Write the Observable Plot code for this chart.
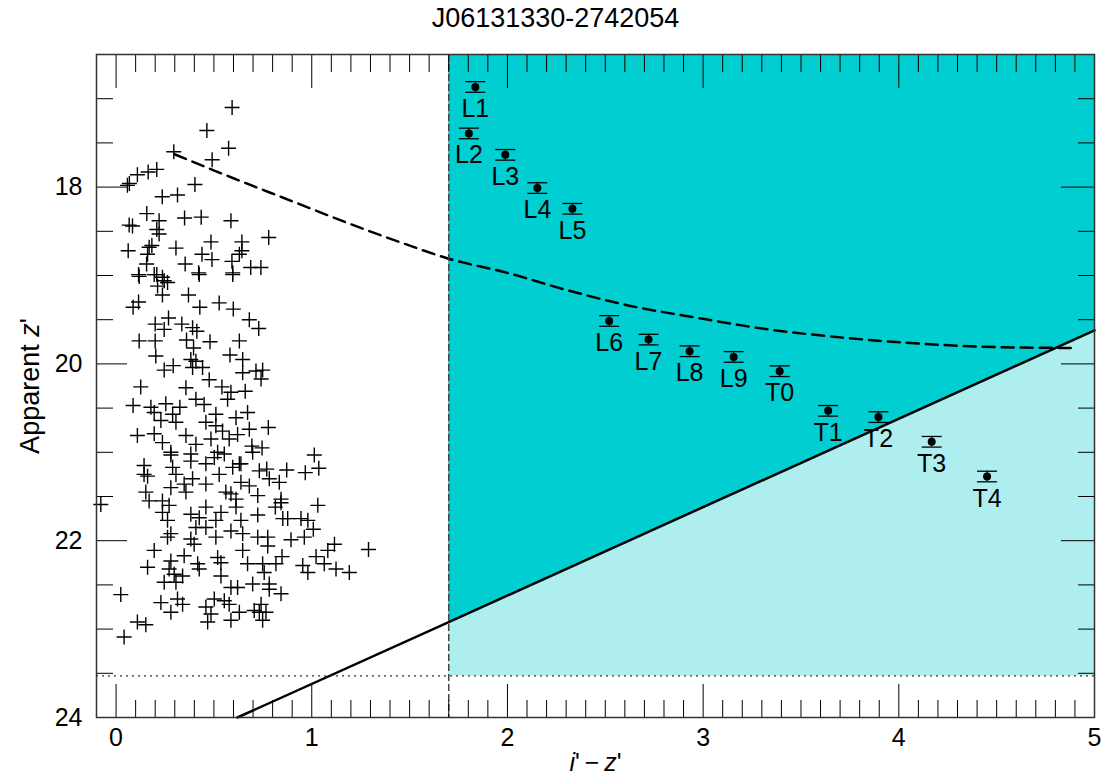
<!DOCTYPE html>
<html><head><meta charset="utf-8">
<script src="https://cdn.jsdelivr.net/npm/d3@7"></script>
<script src="https://cdn.jsdelivr.net/npm/@observablehq/plot@0.6"></script>
<style>body{margin:0;background:#fff;}</style>
</head><body><div id="chart"></div>
<script>
const chartTitle = "J06131330-2742054";
const xLabel = "i'−z'";
const yLabel = "Apparent z'";

// Spectral-type template sequence (labelled points)
const spType = ["L1","L2","L3","L4","L5","L6","L7","L8","L9","T0","T1","T2","T3","T4"];
const spColor = [1.836,1.803,1.989,2.153,2.332,2.520,2.721,2.931,3.156,3.391,3.639,3.896,4.168,4.451];
const spMag = [16.867,17.393,17.635,18.011,18.245,19.514,19.725,19.857,19.921,20.083,20.531,20.602,20.881,21.274];
const spErr = [0.06,0.06,0.06,0.06,0.06,0.06,0.06,0.06,0.06,0.06,0.06,0.06,0.06,0.06];

// Field sources (crosses)
const crossX = [
0.593,0.464,0.575,0.295,0.491,0.208,0.164,0.109,0.058,0.068,0.403,0.314,0.236,0.157,0.435,0.350,0.587,0.220,0.067,0.084,
0.208,0.220,0.485,0.643,0.062,0.169,0.183,0.306,0.161,0.439,0.490,0.156,0.353,0.592,0.630,0.422,0.596,0.115,0.208,0.237,
0.780,0.688,0.740,0.643,
0.118,0.195,0.246,0.212,0.263,0.425,0.596,0.237,0.370,0.115,0.087,0.428,0.527,0.599,0.268,0.200,0.246,0.336,0.391,0.413,
0.118,0.200,0.360,0.480,0.630,0.396,0.203,0.382,0.408,0.582,0.647,0.292,0.246,0.391,0.442,0.647,0.476,0.126,0.357,0.541,
0.587,0.570,0.408,0.254,0.087,0.178,0.195,0.326,0.450,0.510,0.289,0.306,0.229,0.613,0.459,0.510,0.544,0.109,0.195,0.357,
0.237,0.408,0.485,0.578,0.280,0.382,0.519,
0.681,0.729,0.715,0.749,0.741,0.660,0.672,0.778,0.681,0.621,0.694,0.746,0.698,1.013,1.036,0.967,0.872,0.770,0.732,0.638,
0.783,0.834,0.681,0.724,0.613,0.843,0.814,1.031,0.724,0.852,0.877,0.945,0.980,1.008,0.724,0.775,0.775,0.894,0.962,0.848,
1.022,1.116,1.082,1.290,0.672,0.749,0.817,0.954,0.980,1.064,1.124,1.192,0.757,0.698,0.783,0.783,0.843,0.621,0.741,0.732,
0.766,0.706,0.749,0.843,
0.280,0.143,0.143,0.161,0.289,0.306,0.382,0.459,0.502,0.553,0.596,0.630,0.391,0.459,0.527,0.280,0.348,0.638,0.152,0.169,
0.357,0.561,0.587,-0.078,0.237,0.237,0.271,0.263,0.459,0.536,0.613,0.382,0.425,0.510,0.638,0.408,0.459,0.587,0.280,0.263,
0.382,0.399,0.510,0.647,0.195,0.280,0.348,0.417,0.425,0.519,0.536,0.647,0.161,0.271,0.297,0.340,0.246,0.306,0.536,0.587,
0.024,0.229,0.314,0.340,0.280,0.459,0.485,0.502,0.553,0.578,0.630,0.468,0.587,0.109,0.152,0.041
];
const crossZ = [
17.10,17.36,17.56,17.60,17.69,17.80,17.83,17.86,17.98,17.96,17.97,18.09,18.11,18.30,18.34,18.35,18.38,18.38,18.43,18.44,
18.48,18.53,18.62,18.62,18.72,18.68,18.66,18.69,18.76,18.76,18.82,18.87,18.87,18.84,18.76,18.97,18.97,18.99,18.99,19.02,
18.57,18.91,18.91,18.72,
19.01,18.99,19.06,19.12,19.08,18.99,18.99,19.22,19.22,19.30,19.36,19.36,19.31,19.38,19.48,19.55,19.61,19.55,19.59,19.63,
19.74,19.74,19.73,19.75,19.74,19.82,19.91,19.95,19.97,19.90,19.95,20.02,20.07,20.04,20.04,20.10,20.18,20.26,20.27,20.26,
20.32,20.40,20.40,20.45,20.47,20.49,20.55,20.49,20.46,20.57,20.57,20.66,20.64,20.61,20.66,20.70,20.76,20.81,20.79,20.81,
20.89,20.91,20.85,20.85,21.00,21.02,21.00,
19.50,19.60,20.08,20.07,20.17,20.31,20.55,20.72,20.74,20.80,20.93,20.95,21.00,21.03,21.18,21.23,21.20,21.19,21.21,21.13,
21.30,21.34,21.38,21.49,21.53,21.53,21.62,21.60,21.71,21.75,21.75,21.75,21.77,21.87,21.96,21.96,22.06,21.99,21.96,22.18,
22.18,22.04,22.11,22.10,22.26,22.26,22.26,22.28,22.36,22.26,22.32,22.36,22.36,22.49,22.49,22.55,22.60,22.53,22.72,22.81,
22.81,22.79,22.90,21.57,
21.03,21.15,21.25,21.27,21.17,21.25,21.10,21.13,21.06,21.02,21.17,21.13,21.30,21.36,21.25,21.40,21.36,21.34,21.45,21.55,
21.45,21.45,21.47,21.59,21.55,21.68,21.60,21.77,21.62,21.68,21.62,21.70,21.74,21.77,21.77,21.85,21.85,21.89,21.92,21.96,
21.98,22.04,21.96,21.92,22.11,22.23,22.17,22.26,22.32,22.19,22.25,22.11,22.30,22.32,22.38,22.40,22.47,22.47,22.40,22.53,
22.61,22.70,22.66,22.72,22.81,22.75,22.83,22.66,22.68,22.72,22.81,22.92,22.90,22.92,22.95,23.09
];

// Dashed curve
const curveX = [0.30,0.60,0.90,1.20,1.46,1.70,2.00,2.28,2.60,3.00,3.30,3.70,4.10,4.50,4.91];
const curveZ = [17.63,17.90,18.16,18.42,18.63,18.81,18.97,19.15,19.33,19.49,19.60,19.70,19.77,19.81,19.82];

// Solid limit line
const limitX = [0.62,1.70,5.00];
const limitZ = [24.00,22.92,19.62];

const colourCut = 1.7;
const magLimit = 23.53;
const xDomain = [-0.1, 5.0];
const yDomain = [24, 16.5];
const xMajor = [0,1,2,3,4,5];
const yMajor = [18,20,22,24];

const sp = spType.map((t,i)=>({t, x: spColor[i], z: spMag[i], e: spErr[i]}));
const crosses = crossX.map((x,i)=>({x, z: crossZ[i]}));
const curve = curveX.map((x,i)=>({x, z: curveZ[i]}));
const limit = limitX.map((x,i)=>({x, z: limitZ[i]}));
const limitIn = limit.filter(d => d.x >= colourCut);

const xMinor = d3.range(-1, 51).map(i => i/10).filter(v => Math.abs(v - Math.round(v)) > 1e-6);
const yMinor = d3.range(33, 49).map(i => i/2).filter(v => !yMajor.includes(v));

const hline = {draw(c, size){ const r = Math.sqrt(size/Math.PI); c.moveTo(-r,0); c.lineTo(r,0); }};
const plus = {draw(c, size){ const r = Math.sqrt(size/Math.PI); c.moveTo(-r,0); c.lineTo(r,0); c.moveTo(0,-r); c.lineTo(0,r); }};

const font = "'Liberation Sans', Arial, Helvetica, sans-serif";
const fs = 25;

const chart = Plot.plot({
  width: 1104, height: 779,
  marginLeft: 96, marginRight: 10, marginTop: 54, marginBottom: 62,
  style: {fontFamily: font, fontSize: fs+"px", color: "#000", background: "#fff"},
  x: {domain: xDomain},
  y: {domain: yDomain},
  marks: [
    Plot.rect([0], {x1: colourCut, x2: xDomain[1], y1: yDomain[1], y2: magLimit, fill: "#AFEEEE"}),
    Plot.areaY(limitIn, {x: "x", y1: yDomain[1], y2: "z", fill: "#00CED1"}),
    Plot.dot(crosses, {x: "x", y: "z", symbol: plus, r: 7.5, stroke: "#000", strokeWidth: 1.4, fill: "none"}),
    Plot.line(curve, {x: "x", y: "z", curve: "monotone-x", stroke: "#000", strokeWidth: 2.5, strokeDasharray: "12,7"}),
    Plot.line(limit, {x: "x", y: "z", stroke: "#000", strokeWidth: 2.5}),
    Plot.ruleY([magLimit], {stroke: "#333", strokeWidth: 1.3, strokeDasharray: "2,4"}),
    Plot.ruleX([colourCut], {stroke: "#444", strokeWidth: 1.5, strokeDasharray: "7,3"}),
    Plot.ruleX(sp, {x: "x", y1: d => d.z - d.e, y2: d => d.z + d.e, stroke: "#000", strokeWidth: 1.2}),
    Plot.dot(sp, {x: "x", y: d => d.z - d.e, symbol: hline, r: 10, stroke: "#000", strokeWidth: 1.3}),
    Plot.dot(sp, {x: "x", y: d => d.z + d.e, symbol: hline, r: 10, stroke: "#000", strokeWidth: 1.3}),
    Plot.dot(sp, {x: "x", y: "z", r: 4, fill: "#000"}),
    Plot.text(sp, {x: "x", y: "z", text: "t", dy: 22, fontSize: fs, fill: "#000"}),
    // inward ticks on all four sides
    Plot.axisX({anchor: "bottom", ticks: xMinor, tickSize: -17, text: null, label: null, stroke: "#000"}),
    Plot.axisX({anchor: "bottom", ticks: xMajor, tickSize: -33, text: null, label: null, stroke: "#000"}),
    Plot.axisX({anchor: "top", ticks: xMinor, tickSize: -17, text: null, label: null, stroke: "#000"}),
    Plot.axisX({anchor: "top", ticks: xMajor, tickSize: -33, text: null, label: null, stroke: "#000"}),
    Plot.axisY({anchor: "left", ticks: yMinor, tickSize: -17, text: null, label: null, stroke: "#000"}),
    Plot.axisY({anchor: "left", ticks: yMajor, tickSize: -31, text: null, label: null, stroke: "#000"}),
    Plot.axisY({anchor: "right", ticks: yMinor, tickSize: -17, text: null, label: null, stroke: "#000"}),
    Plot.axisY({anchor: "right", ticks: yMajor, tickSize: -34, text: null, label: null, stroke: "#000"}),
    Plot.axisX({anchor: "bottom", ticks: xMajor, tickSize: 0, tickPadding: 11, label: null, fontSize: fs, tickFormat: d3.format("d")}),
    Plot.axisY({anchor: "left", ticks: yMajor, tickSize: 0, tickPadding: 14, label: null, fontSize: fs, tickFormat: d3.format("d")}),
    Plot.frame({stroke: "#333", strokeWidth: 1.5}),
    Plot.text([chartTitle], {frameAnchor: "top", lineAnchor: "middle", dx: -40, dy: -36, fontSize: 27, fill: "#000"}),
    Plot.text([xLabel], {frameAnchor: "bottom", lineAnchor: "middle", dy: 45, fontSize: 25, fill: "#000", className: "xlab"}),
    Plot.text([yLabel], {frameAnchor: "left", textAnchor: "middle", lineAnchor: "middle", dx: -66, rotate: -90, fontSize: 27, fill: "#000", className: "ylab"})
  ]
});

// rich-text axis labels (italic letters)
const svg = d3.select(chart);
svg.selectAll(".xlab text").each(function(){
  const t = d3.select(this); t.text(null);
  t.append("tspan").attr("font-style","italic").text("i");
  t.append("tspan").text("'\u2009−\u2009");
  t.append("tspan").attr("font-style","italic").text("z");
  t.append("tspan").text("'");
});
svg.selectAll(".ylab text").each(function(){
  const t = d3.select(this); t.text(null);
  t.append("tspan").text("Apparent ");
  t.append("tspan").attr("font-style","italic").text("z");
  t.append("tspan").text("'");
});
document.getElementById("chart").appendChild(chart);
</script>
</body></html>
